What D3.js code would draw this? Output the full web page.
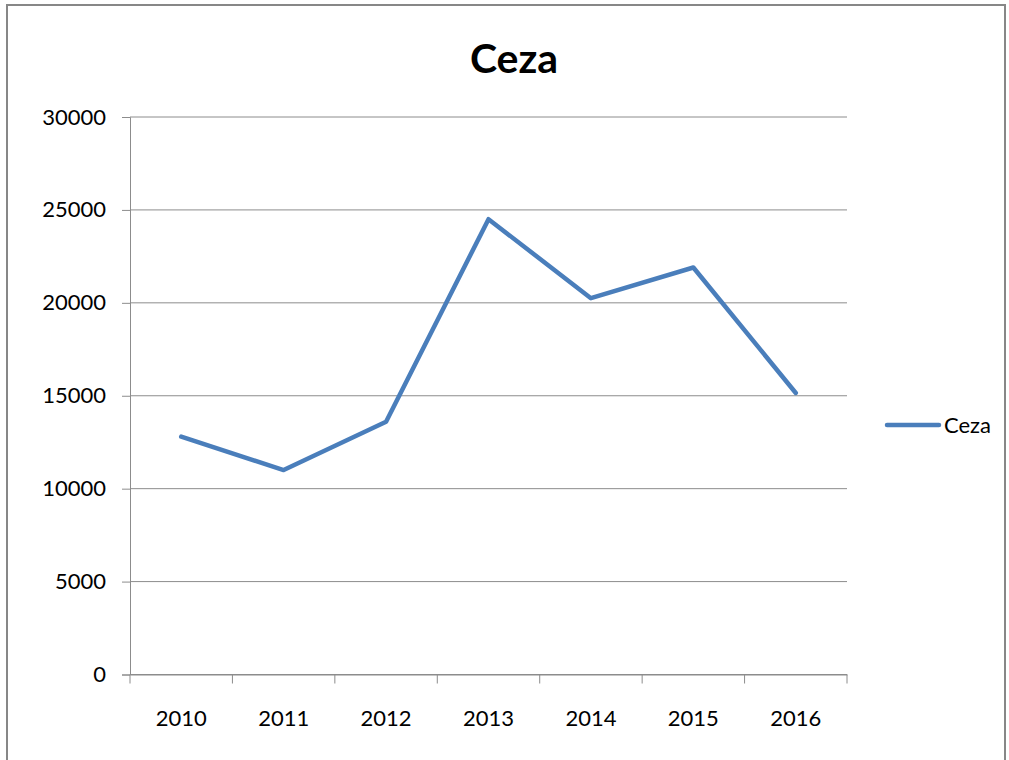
<!DOCTYPE html>
<html>
<head>
<meta charset="utf-8">
<script src="https://cdn.jsdelivr.net/npm/d3@7"></script>
<style>
  body { margin: 0; background: #fff; }
  text { font-family: Lato, "Open Sans", sans-serif; fill: #000; }
</style>
</head>
<body>
<div id="chart"></div>
<script>
// chart data
var years = ["2010", "2011", "2012", "2013", "2014", "2015", "2016"]
var ceza = [12800, 11000, 13600, 24500, 20250, 21900, 15150]
var yTicks = [0, 5000, 10000, 15000, 20000, 25000, 30000]
var seriesName = "Ceza"

var width = 1009, height = 760
var plotLeft = 130, plotRight = 847, plotTop = 117, plotBottom = 674.5
var labelFont = "Lato, 'Open Sans', sans-serif"

var svg = d3.select("#chart").append("svg")
  .attr("width", width)
  .attr("height", height)

// outer frame
svg.append("rect")
  .attr("x", 7).attr("y", 5)
  .attr("width", 998).attr("height", 770)
  .attr("fill", "none")
  .attr("stroke", "#878787")
  .attr("stroke-width", 2)

var x = d3.scaleBand().domain(years).range([plotLeft, plotRight])
var y = d3.scaleLinear().domain([0, 30000]).range([plotBottom, plotTop])

// gridlines
svg.append("g")
  .selectAll("line")
  .data(yTicks)
  .enter()
  .append("line")
  .attr("x1", plotLeft).attr("x2", plotRight)
  .attr("y1", function(d) { return y(d) })
  .attr("y2", function(d) { return y(d) })
  .attr("stroke", "#8c8c8c")
  .attr("stroke-width", 1)

// y axis
var yAxis = svg.append("g")
  .attr("transform", "translate(" + plotLeft + ",0)")
  .call(d3.axisLeft(y).tickValues(yTicks).tickSize(8).tickPadding(16).tickFormat(d3.format("d")))
yAxis.select(".domain").attr("stroke", "#8c8c8c")
yAxis.selectAll(".tick line").attr("stroke", "#8c8c8c")
yAxis.selectAll("text").attr("font-size", 22).attr("font-family", labelFont)

// x axis, ticks on band edges
var xAxis = svg.append("g")
  .attr("transform", "translate(0," + plotBottom + ")")
  .call(d3.axisBottom(x).tickSize(0).tickPadding(36))
xAxis.select(".domain").attr("stroke", "#8c8c8c")
xAxis.selectAll("text").attr("font-size", 22).attr("font-family", labelFont)

var edges = years.map(function(d) { return x(d) }).concat([plotRight])
svg.append("g")
  .selectAll("line")
  .data(edges)
  .enter()
  .append("line")
  .attr("x1", function(d) { return d }).attr("x2", function(d) { return d })
  .attr("y1", plotBottom).attr("y2", plotBottom + 9)
  .attr("stroke", "#8c8c8c")

// the line
var line = d3.line()
  .x(function(d, i) { return x(years[i]) + x.bandwidth() / 2 })
  .y(function(d) { return y(d) })

svg.append("path")
  .datum(ceza)
  .attr("d", line)
  .attr("fill", "none")
  .attr("stroke", "#4a7ebb")
  .attr("stroke-width", 4.5)
  .attr("stroke-linejoin", "round")
  .attr("stroke-linecap", "round")

// title
svg.append("text")
  .attr("x", 514).attr("y", 73)
  .attr("text-anchor", "middle")
  .attr("font-size", 41)
  .attr("font-weight", "bold")
  .text(seriesName)

// legend
svg.append("line")
  .attr("x1", 887).attr("x2", 939)
  .attr("y1", 425).attr("y2", 425)
  .attr("stroke", "#4a7ebb")
  .attr("stroke-width", 4.5)
  .attr("stroke-linecap", "round")

svg.append("text")
  .attr("x", 944).attr("y", 433)
  .attr("font-size", 22)
  .text(seriesName)
</script>
</body>
</html>
